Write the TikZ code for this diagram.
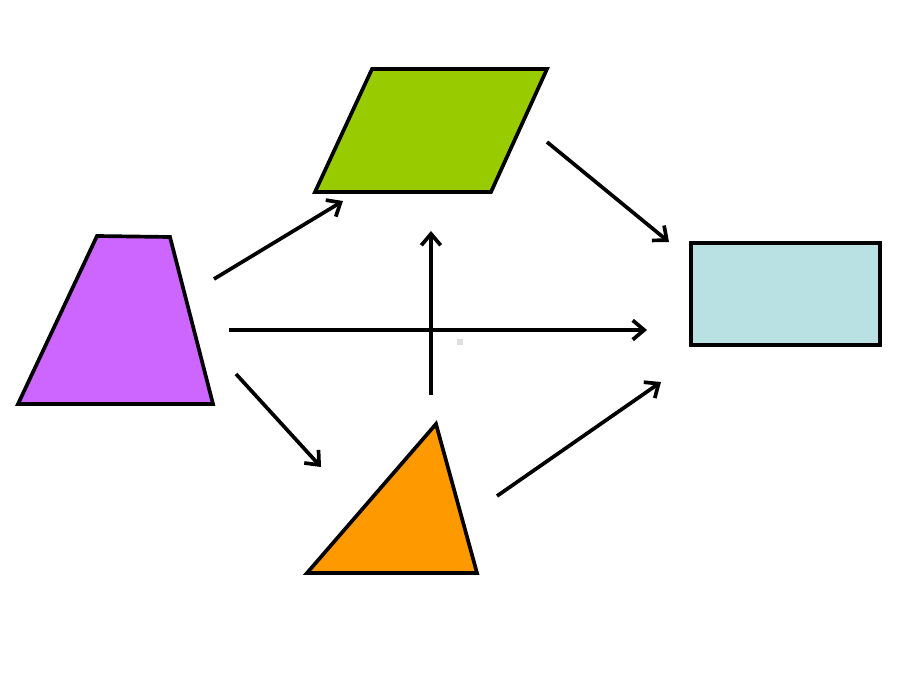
\documentclass[tikz,border=0pt]{standalone}
\usetikzlibrary{arrows.meta}
\definecolor{trapcol}{HTML}{CC66FF}
\definecolor{parcol}{HTML}{99CC00}
\definecolor{tricol}{HTML}{FF9900}
\definecolor{reccol}{HTML}{B9E0E3}
\tikzset{
 shapeline/.style={draw=black,line width=2.1pt,line join=miter},
 arr/.style={line width=2.1pt,-{Straight Barb[length=6.5pt,width=11pt,line width=2.1pt]}}
}
\begin{document}
\begin{tikzpicture}[x=0.02cm,y=-0.02cm]
\useasboundingbox (0,0) rectangle (920,690);
% shapes
\filldraw[shapeline,fill=trapcol] (18,404) -- (97,236) -- (170,237) -- (213,404) -- cycle;
\filldraw[shapeline,fill=parcol] (315,192) -- (372,69) -- (547,69) -- (491,192) -- cycle;
\filldraw[shapeline,fill=tricol] (307,573) -- (436,424) -- (477,573) -- cycle;
\filldraw[shapeline,fill=reccol] (691,243) rectangle (880,345);
\fill[gray!25] (457,339) rectangle (463,345);
% arrow ends
\coordinate (trapA) at (214,279);  \coordinate (parA) at (343,201);
\coordinate (parB) at (547,142);   \coordinate (recA) at (669,242);
\coordinate (trapB) at (229,330);  \coordinate (recB) at (647,330);
\coordinate (triA) at (431,395);   \coordinate (parC) at (431,231);
\coordinate (trapC) at (236,374);  \coordinate (triB) at (321,467);
\coordinate (triC) at (497,496);   \coordinate (recC) at (661,382);
\foreach \a/\b in {trapA/parA,parB/recA,trapB/recB,triA/parC,trapC/triB,triC/recC}
 \draw[arr] (\a) -- (\b);
\end{tikzpicture}
\end{document}
